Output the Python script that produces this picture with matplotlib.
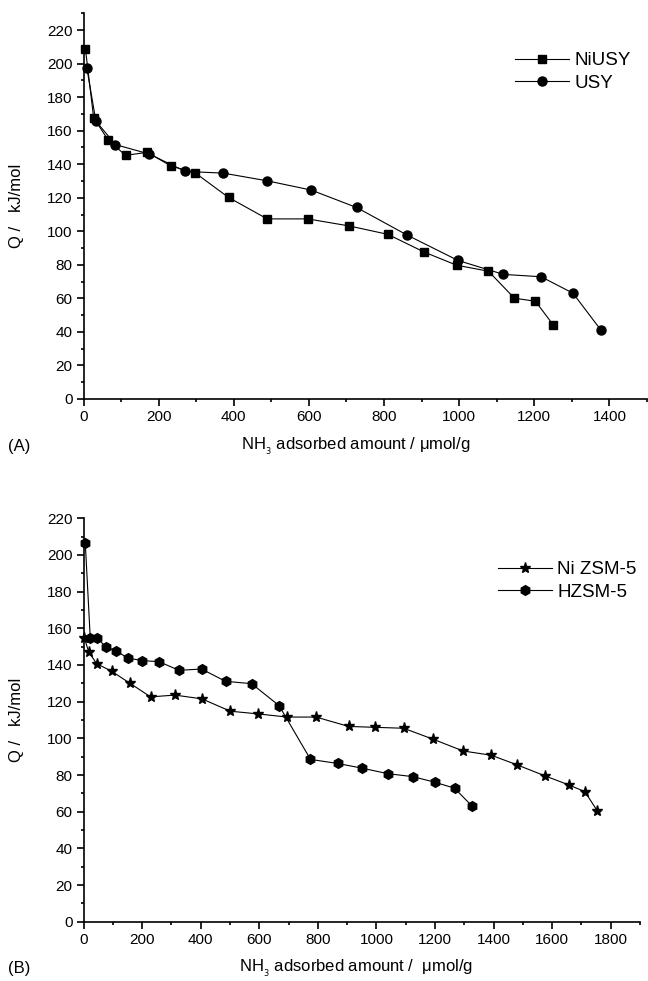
import matplotlib
matplotlib.use("Agg")
import matplotlib.pyplot as plt
from matplotlib.ticker import MultipleLocator

plt.rcParams['font.family'] = ['Liberation Sans', 'DejaVu Sans']

# ---- Data: panel A ----
niusy_x = [5, 27, 66, 112, 170, 233, 297, 386, 489, 597, 707, 810, 907, 993, 1078, 1147, 1203, 1250]
niusy_y = [209, 167.7, 154.3, 145.3, 147.1, 138.9, 134.9, 120.2, 107.4, 107.4, 103.2, 98.2, 87.6, 79.8, 76.2, 60.1, 58.3, 44.3]
usy_x = [9, 33, 85, 175, 271, 372, 489, 606, 727, 861, 997, 1118, 1218, 1303, 1378]
usy_y = [197.2, 165.7, 151.7, 146.1, 135.7, 134.7, 130.1, 124.6, 114.2, 97.8, 82.6, 74.3, 72.9, 63.1, 40.9]

# ---- Data: panel B ----
nizsm_x = [3, 18, 45, 96, 159, 229, 312, 405, 501, 597, 695, 794, 905, 996, 1093, 1194, 1296, 1392, 1481, 1576, 1657, 1712, 1754]
nizsm_y = [154.6, 147.1, 140.7, 136.6, 130.0, 122.6, 123.6, 121.5, 114.8, 113.3, 111.6, 111.6, 106.5, 106.0, 105.5, 99.5, 93.1, 90.8, 85.5, 79.5, 74.6, 70.9, 60.5]
hzsm_x = [6, 23, 46, 77, 111, 152, 199, 258, 326, 403, 485, 574, 668, 775, 868, 952, 1040, 1125, 1201, 1267, 1325]
hzsm_y = [206.7, 154.9, 154.6, 150.0, 147.6, 143.8, 142.4, 141.8, 137.1, 137.8, 131.1, 129.8, 117.8, 88.5, 86.3, 83.7, 80.7, 79.1, 76.0, 72.8, 63.3]

yticks = list(range(0, 221, 20))
xticks_a = list(range(0, 1401, 200))
xticks_b = list(range(0, 1801, 200))

W, H = 648, 981
fig = plt.figure(figsize=(W / 100, H / 100), dpi=100)

def px_rect(l, t, r, b):
    return [l / W, 1 - b / H, (r - l) / W, (b - t) / H]

axA = fig.add_axes(px_rect(83.5, 13.3, 647, 399))
axB = fig.add_axes(px_rect(83.5, 518.3, 640, 921.7))

TICK_FS = 11

def style(ax, xlim, ylim, xticks):
    for s in ['top', 'right']:
        ax.spines[s].set_visible(False)
    for s in ['left', 'bottom']:
        ax.spines[s].set_linewidth(1.2)
    ax.set_xlim(*xlim)
    ax.set_ylim(*ylim)
    ax.set_xticks(xticks)
    ax.set_yticks(yticks)
    ax.xaxis.set_minor_locator(MultipleLocator(100))
    ax.yaxis.set_minor_locator(MultipleLocator(10))
    ax.tick_params(which='major', direction='out', length=5, width=1.2, labelsize=TICK_FS, pad=3)
    ax.tick_params(which='minor', direction='out', length=2.5, width=1.2)
    ax.patch.set_alpha(0)

lw = 0.8
axA.plot(niusy_x, niusy_y, '-', color='black', lw=lw, marker='s', ms=5.5, mfc='black', mec='black', label='NiUSY', clip_on=False)
axA.plot(usy_x, usy_y, '-', color='black', lw=lw, marker='o', ms=6.5, mfc='black', mec='black', label='USY', clip_on=False)
style(axA, (0, 1500), (0, 230), xticks_a)

axB.plot(nizsm_x, nizsm_y, '-', color='black', lw=lw, marker='*', ms=8, mfc='black', mec='black', label='Ni ZSM-5', clip_on=False)
axB.plot(hzsm_x, hzsm_y, '-', color='black', lw=lw, marker='h', ms=7, mfc='black', mec='black', label='HZSM-5', clip_on=False)
style(axB, (0, 1900), (0, 220), xticks_b)

LEG_FS = 13.5
legA = axA.legend(loc='upper left', bbox_to_anchor=(515 / W, 1 - 52 / H), bbox_transform=fig.transFigure,
                  frameon=False, fontsize=LEG_FS, handlelength=2.9, handletextpad=0.25,
                  labelspacing=0.3, borderpad=0, borderaxespad=0)
legB = axB.legend(loc='upper left', bbox_to_anchor=(498 / W, 1 - 561 / H), bbox_transform=fig.transFigure,
                  frameon=False, fontsize=LEG_FS, handlelength=2.9, handletextpad=0.25,
                  labelspacing=0.3, borderpad=0, borderaxespad=0)

LAB_FS = 12
fig.text(17 / W, 1 - 206 / H, 'Q /   kJ/mol', rotation=90, ha='center', va='center', fontsize=LAB_FS)
fig.text(17 / W, 1 - 720 / H, 'Q /   kJ/mol', rotation=90, ha='center', va='center', fontsize=LAB_FS)
fig.text(356 / W, 1 - 446 / H, r'NH$_{_3}$ adsorbed amount / μmol/g', ha='center', va='center', fontsize=LAB_FS)
fig.text(356 / W, 1 - 968 / H, r'NH$_{_3}$ adsorbed amount /  μmol/g', ha='center', va='center', fontsize=LAB_FS)
fig.text(8 / W, 1 - 446 / H, '(A)', ha='left', va='center', fontsize=LAB_FS)
fig.text(8 / W, 1 - 968 / H, '(B)', ha='left', va='center', fontsize=LAB_FS)

fig.savefig('out.png', dpi=100)
